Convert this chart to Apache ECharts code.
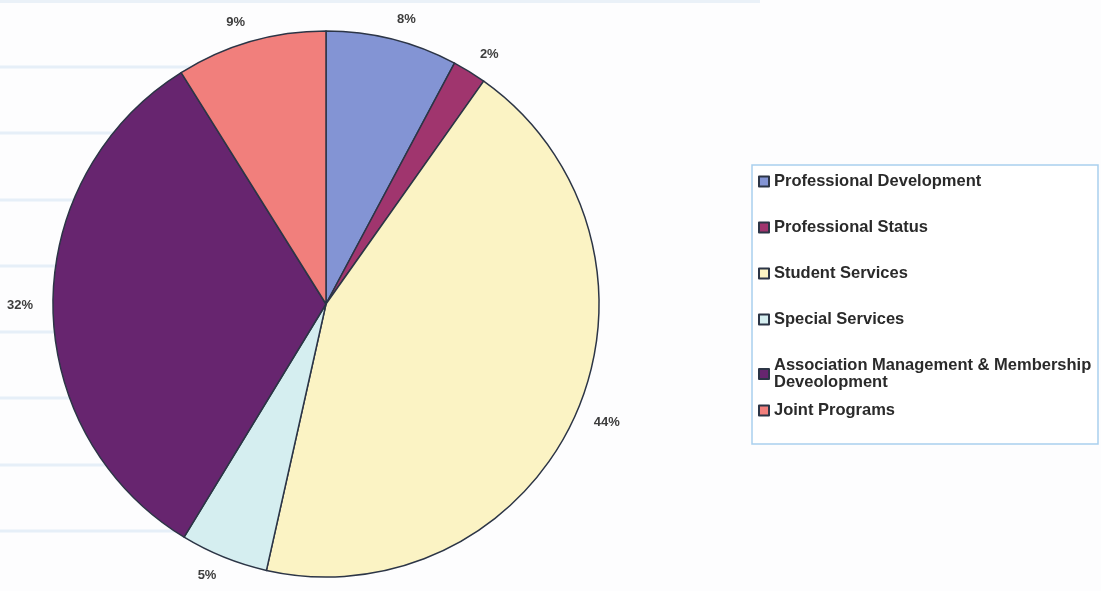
<!DOCTYPE html>
<html>
<head>
<meta charset="utf-8">
<script src="https://cdn.jsdelivr.net/npm/echarts@6/dist/echarts.min.js"></script>
<style>
  html, body { margin: 0; padding: 0; background: #fdfdfe; }
  #chart { width: 1101px; height: 591px; }
</style>
</head>
<body>
<div id="chart"></div>
<script>
// ---- Data ----
const categories = [
  'Professional Development',
  'Professional Status',
  'Student Services',
  'Special Services',
  'Association Management & Membership Deveolopment',
  'Joint Programs'
];
// slice shares (labels show them rounded)
const shareValues = [7.8, 2.0, 43.7, 5.2, 32.4, 8.9];
const sliceColors = ['#8394D4', '#A0356E', '#FBF3C4', '#D5EEF0', '#67256F', '#F17F7C'];

// ---- Build ----
const pieData = categories.map((name, i) => ({
  name: name,
  value: shareValues[i],
  itemStyle: { color: sliceColors[i] }
}));

// faint background rules (scan artefact of the source page)
const ruleYs = [67, 133, 200, 266, 332, 398, 465, 531];
const bgRules = ruleYs.map(y => ({
  type: 'line',
  z: -10,
  shape: { x1: 0, y1: y, x2: 330, y2: y },
  style: { stroke: '#E6EFF8', lineWidth: 3 },
  silent: true
})).concat([{
  type: 'line',
  z: -10,
  shape: { x1: 0, y1: 1, x2: 760, y2: 1 },
  style: { stroke: '#EAF1F8', lineWidth: 4 },
  silent: true
}]);

const legendText = {
  fontFamily: 'Liberation Sans, Arial, sans-serif',
  fontSize: 16.5,
  fontWeight: 'bold',
  color: '#2a2a2a',
  lineHeight: 17
};

const chart = echarts.init(document.getElementById('chart'), null, { renderer: 'canvas' });
chart.setOption({
  backgroundColor: '#fdfdfe',
  animation: false,
  graphic: bgRules.concat([{
    type: 'rect',
    z: -5,
    shape: { x: 752, y: 165, width: 346, height: 279 },
    style: { fill: '#ffffff', stroke: '#A9D0EE', lineWidth: 1.5 },
    silent: true
  }]),
  legend: [
    {
      orient: 'vertical',
      left: 758,
      top: 173,
      padding: 0,
      itemWidth: 10,
      itemHeight: 10,
      itemGap: 29,
      icon: 'rect',
      data: categories.slice(0, 5),
      formatter: function (name) {
        return name === categories[4]
          ? 'Association Management & Membership\nDeveolopment'
          : name;
      },
      textStyle: legendText
    },
    {
      orient: 'vertical',
      left: 758,
      top: 402,
      padding: 0,
      itemWidth: 10,
      itemHeight: 10,
      icon: 'rect',
      data: categories.slice(5),
      textStyle: legendText
    }
  ],
  series: [{
    type: 'pie',
    center: [326, 304],
    radius: 273,
    startAngle: 90,
    clockwise: true,
    avoidLabelOverlap: false,
    data: pieData,
    itemStyle: { borderColor: '#2C3546', borderWidth: 1.5 },
    label: {
      show: true,
      position: 'outside',
      formatter: function (p) { return Math.round(p.value) + '%'; },
      distanceToLabelLine: 0,
      fontFamily: 'Liberation Sans, Arial, sans-serif',
      fontSize: 13,
      fontWeight: 'bold',
      color: '#3d3d3d'
    },
    labelLine: { show: false, length: 20, length2: 0 },
    emphasis: { disabled: true }
  }]
});
</script>
</body>
</html>
